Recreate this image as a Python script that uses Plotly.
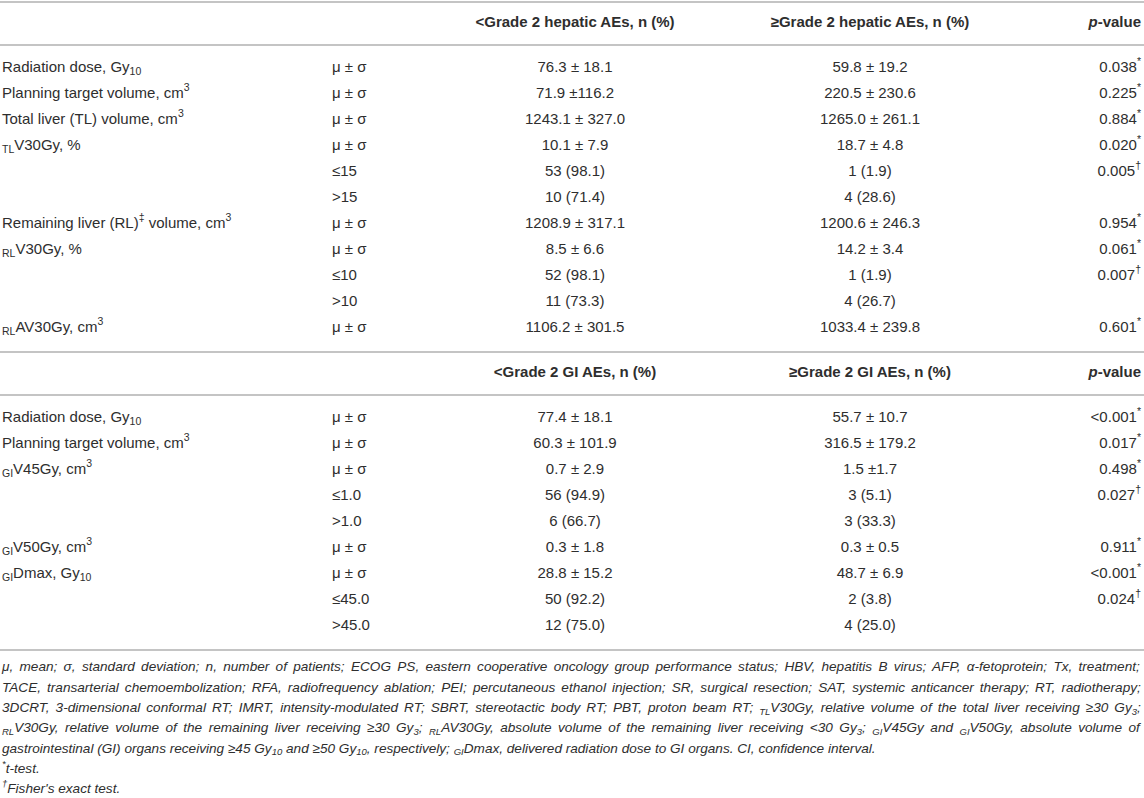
import plotly.graph_objects as go


# Hepatic adverse events block.
HEP_HEADERS = ["&lt;Grade 2 hepatic AEs, n (%)", "≥Grade 2 hepatic AEs, n (%)"]

HEP_LABELS = [
    "Radiation dose, Gy<sub>10</sub>",
    "Planning target volume, cm<sup>3</sup>",
    "Total liver (TL) volume, cm<sup>3</sup>",
    "<sub>TL</sub>V30Gy, %",
    "",
    "",
    "Remaining liver (RL)<sup>‡</sup> volume, cm<sup>3</sup>",
    "<sub>RL</sub>V30Gy, %",
    "",
    "",
    "<sub>RL</sub>AV30Gy, cm<sup>3</sup>",
]

HEP_STATS = ["μ ± σ", "μ ± σ", "μ ± σ", "μ ± σ", "≤15", ">15", "μ ± σ", "μ ± σ", "≤10", ">10", "μ ± σ"]

HEP_LOW = [
    "76.3 ± 18.1",
    "71.9 ±116.2",
    "1243.1 ± 327.0",
    "10.1 ± 7.9",
    "53 (98.1)",
    "10 (71.4)",
    "1208.9 ± 317.1",
    "8.5 ± 6.6",
    "52 (98.1)",
    "11 (73.3)",
    "1106.2 ± 301.5",
]

HEP_HIGH = [
    "59.8 ± 19.2",
    "220.5 ± 230.6",
    "1265.0 ± 261.1",
    "18.7 ± 4.8",
    "1 (1.9)",
    "4 (28.6)",
    "1200.6 ± 246.3",
    "14.2 ± 3.4",
    "1 (1.9)",
    "4 (26.7)",
    "1033.4 ± 239.8",
]

HEP_P = ["0.038*", "0.225*", "0.884*", "0.020*", "0.005†", "", "0.954*", "0.061*", "0.007†", "", "0.601*"]

# Gastrointestinal adverse events block.
GI_HEADERS = ["&lt;Grade 2 GI AEs, n (%)", "≥Grade 2 GI AEs, n (%)"]

GI_LABELS = [
    "Radiation dose, Gy<sub>10</sub>",
    "Planning target volume, cm<sup>3</sup>",
    "<sub>GI</sub>V45Gy, cm<sup>3</sup>",
    "",
    "",
    "<sub>GI</sub>V50Gy, cm<sup>3</sup>",
    "<sub>GI</sub>Dmax, Gy<sub>10</sub>",
    "",
    "",
]

GI_STATS = ["μ ± σ", "μ ± σ", "μ ± σ", "≤1.0", ">1.0", "μ ± σ", "μ ± σ", "≤45.0", ">45.0"]

GI_LOW = [
    "77.4 ± 18.1",
    "60.3 ± 101.9",
    "0.7 ± 2.9",
    "56 (94.9)",
    "6 (66.7)",
    "0.3 ± 1.8",
    "28.8 ± 15.2",
    "50 (92.2)",
    "12 (75.0)",
]

GI_HIGH = [
    "55.7 ± 10.7",
    "316.5 ± 179.2",
    "1.5 ±1.7",
    "3 (5.1)",
    "3 (33.3)",
    "0.3 ± 0.5",
    "48.7 ± 6.9",
    "2 (3.8)",
    "4 (25.0)",
]

GI_P = ["<0.001*", "0.017*", "0.498*", "0.027†", "", "0.911*", "<0.001*", "0.024†", ""]

FOOTNOTES = [
    "μ, mean; σ, standard deviation; n, number of patients; ECOG PS, eastern cooperative oncology group performance status; HBV, hepatitis B virus; AFP, α-fetoprotein; Tx, treatment;",
    "TACE, transarterial chemoembolization; RFA, radiofrequency ablation; PEI; percutaneous ethanol injection; SR, surgical resection; SAT, systemic anticancer therapy; RT, radiotherapy;",
    "3DCRT, 3-dimensional conformal RT; IMRT, intensity-modulated RT; SBRT, stereotactic body RT; PBT, proton beam RT; <sub>TL</sub>V30Gy, relative volume of the total liver receiving ≥30 Gy<sub>3</sub>;",
    "<sub>RL</sub>V30Gy, relative volume of the remaining liver receiving ≥30 Gy<sub>3</sub>; <sub>RL</sub>AV30Gy, absolute volume of the remaining liver receiving &lt;30 Gy<sub>3</sub>; <sub>GI</sub>V45Gy and <sub>GI</sub>V50Gy, absolute volume of",
    "gastrointestinal (GI) organs receiving ≥45 Gy<sub>10</sub> and ≥50 Gy<sub>10</sub>, respectively; <sub>GI</sub>Dmax, delivered radiation dose to GI organs. CI, confidence interval.",
    "<sup>*</sup>t-test.",
    "<sup>†</sup>Fisher's exact test.",
]

# The first lines of the footnote paragraph are justified in the source.
JUSTIFIED_LINES = 4

WIDTH = 1144
HEIGHT = 798

FONT = "Liberation Sans, Arial, Helvetica, sans-serif"
TEXT_COLOR = "#2e2e2e"
RULE_COLOR = "#c4c4c4"

BODY_SIZE = 15
NOTE_SIZE = 13.6
ROW = 26
NOTE_ROW = 20.3

# Column anchors (x) and how text hangs off them.
X_LABEL, X_STAT, X_LOW, X_HIGH, X_P = 2, 332, 575, 870, 1141


def marks(texto):
    """Pone los símbolos de prueba en superíndice."""
    texto = texto.replace("<", "&lt;")
    texto = texto.replace("*", "<sup>*</sup>").replace("†", "<sup>†</sup>")
    return texto


def add_column(fig, x, ys, texts, position, size=BODY_SIZE, style="normal"):
    # Las celdas vacías no se dibujan.
    pares = [(y, t) for y, t in zip(ys, texts) if t]
    fig.add_trace(
        go.Scatter(
            x=[x] * len(pares),
            y=[p[0] for p in pares],
            text=[p[1] for p in pares],
            mode="text",
            textposition=position,
            textfont=dict(family=FONT, size=size, color=TEXT_COLOR, style=style),
            hoverinfo="skip",
            showlegend=False,
            cliponaxis=False,
        )
    )


def add_rule(fig, y):
    fig.add_shape(
        type="line",
        xref="paper",
        yref="y",
        x0=0,
        x1=1,
        y0=y,
        y1=y,
        line_color=RULE_COLOR,
        line_width=2,
    )


def add_block(fig, top, headers, labels, stats, low, high, pvals):
    """Dibuja un bloque (encabezado + filas) y devuelve la y de su última fila."""
    add_rule(fig, top)

    head_y = top + 21
    add_column(fig, X_LOW, [head_y], [f"<b>{headers[0]}</b>"], "middle center")
    add_column(fig, X_HIGH, [head_y], [f"<b>{headers[1]}</b>"], "middle center")
    add_column(fig, X_P, [head_y], ["<b><i>p</i>-value</b>"], "middle left")

    add_rule(fig, top + 43)

    ys = [top + 66 + i * ROW for i in range(len(labels))]

    add_column(fig, X_LABEL, ys, labels, "middle right")
    add_column(fig, X_STAT, ys, stats, "middle right")
    add_column(fig, X_LOW, ys, low, "middle center")
    add_column(fig, X_HIGH, ys, high, "middle center")
    add_column(fig, X_P, ys, [marks(p) for p in pvals], "middle left")

    return ys[-1]


# Quita el margen del <body> y justifica las primeras líneas de la nota al pie.
POST_SCRIPT = """
document.body.style.margin = '0';
var gd = document.getElementById('{plot_id}');
function justificar() {
    var trazas = gd.querySelectorAll('.scatterlayer .trace');
    var textos = trazas[trazas.length - 1].querySelectorAll('text');
    for (var i = 0; i < %d && i < textos.length; i++) {
        var t = textos[i];
        t.setAttribute('word-spacing', '0');
        var ancho = t.getBBox().width;
        var espacios = (t.textContent.match(/ /g) || []).length;
        if (espacios > 0) {
            t.setAttribute('word-spacing', ((%f - ancho) / espacios).toFixed(3));
        }
    }
}
justificar();
gd.on('plotly_afterplot', justificar);
""" % (JUSTIFIED_LINES, X_P - X_LABEL)


def main():
    fig = go.Figure()

    last = add_block(fig, 2, HEP_HEADERS, HEP_LABELS, HEP_STATS, HEP_LOW, HEP_HIGH, HEP_P)
    last = add_block(fig, last + 24, GI_HEADERS, GI_LABELS, GI_STATS, GI_LOW, GI_HIGH, GI_P)

    add_rule(fig, last + 24)

    note_ys = [last + 42 + i * NOTE_ROW for i in range(len(FOOTNOTES))]
    add_column(fig, X_LABEL, note_ys, FOOTNOTES, "middle right", size=NOTE_SIZE, style="italic")

    fig.update_xaxes(range=[0, WIDTH], visible=False, fixedrange=True)
    fig.update_yaxes(range=[HEIGHT, 0], visible=False, fixedrange=True)

    fig.update_layout(
        width=WIDTH,
        height=HEIGHT,
        margin=dict(l=0, r=0, t=0, b=0),
        plot_bgcolor="#FFFFFF",
        paper_bgcolor="#FFFFFF",
        font_family=FONT,
        font_color=TEXT_COLOR,
        showlegend=False,
    )

    fig.write_html(
        "out.html",
        config={"displayModeBar": False},
        post_script=POST_SCRIPT,
    )


if __name__ == "__main__":
    main()
